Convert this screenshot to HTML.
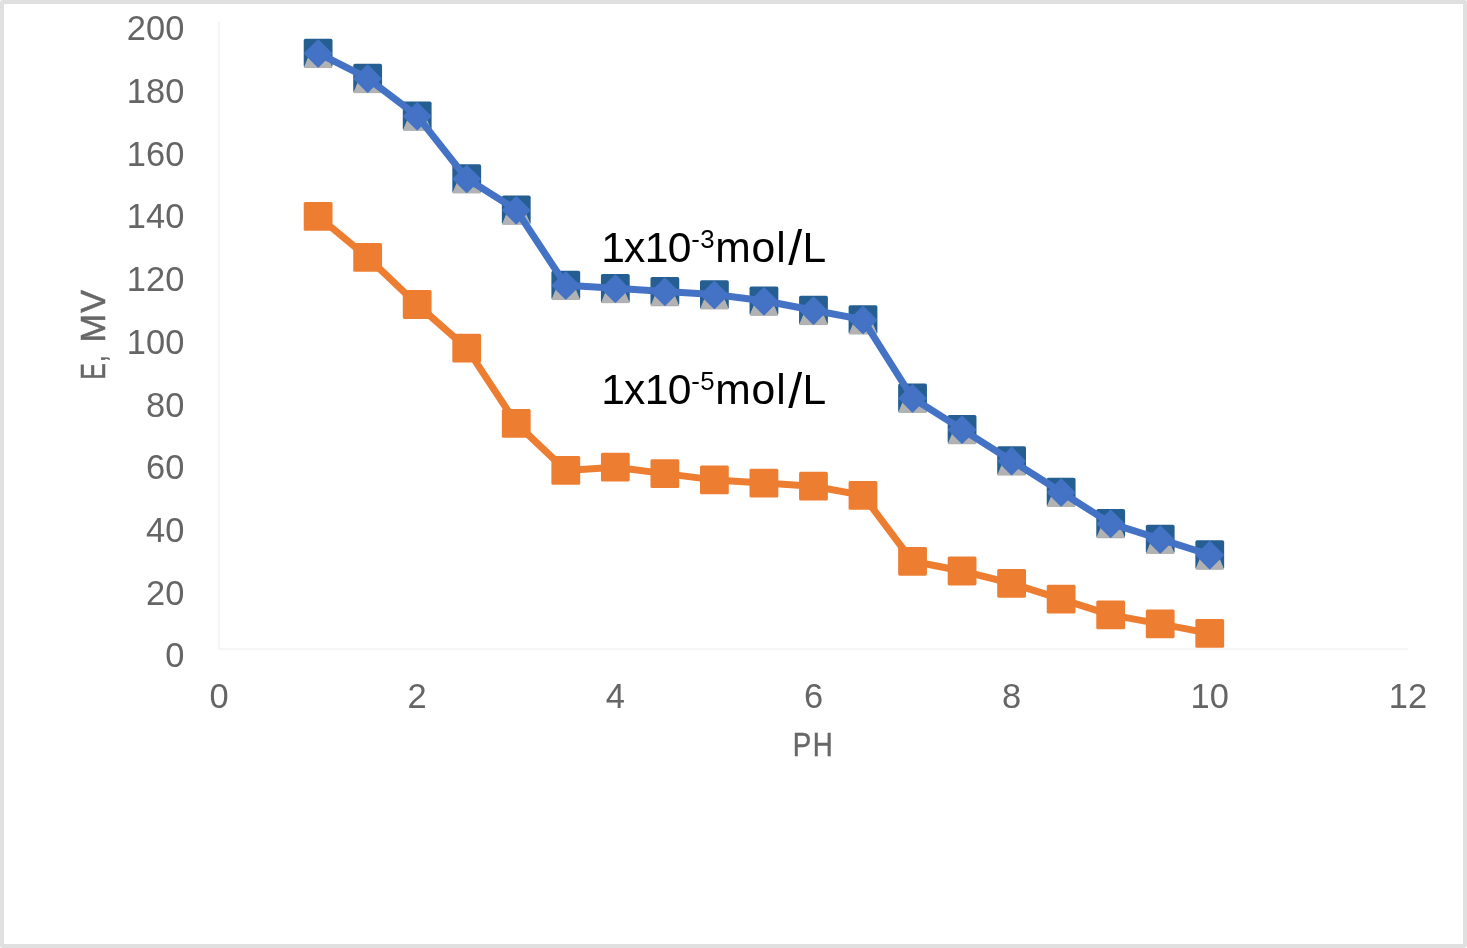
<!DOCTYPE html>
<html lang="en"><head><meta charset="utf-8"><title>E, MV vs PH</title>
<style>html,body{margin:0;padding:0;background:#fff}body{width:1467px;height:948px;overflow:hidden}svg{display:block}text{font-family:"Liberation Sans",sans-serif}</style></head><body>
<svg width="1467" height="948" viewBox="0 0 1467 948">
<rect x="0" y="0" width="1467" height="948" fill="#fff"/>
<rect x="2" y="2" width="1463" height="944" rx="0.4" ry="0.4" fill="#fff" stroke="#E0E0E0" stroke-width="4"/>
<polyline fill="none" stroke="#F5F5F5" stroke-width="2" stroke-linejoin="round" points="218.85,21.8 218.85,648.9 1408.2,648.9"/>
<g id="series-orange">
<polyline fill="none" stroke="#ED7D31" stroke-width="7" stroke-linejoin="round" stroke-linecap="round" points="318.12,216.4 367.65,257.4 417.19,304.5 466.73,348.15 516.26,423.4 565.8,470.4 615.33,467.2 664.87,473.6 714.4,479.9 763.93,483.1 813.47,486.2 863,495.4 912.54,561.3 962.08,571 1011.61,583.3 1061.14,599.2 1110.68,614.9 1160.21,623.9 1209.75,633.4"/>
<rect x="303.72" y="202" width="28.8" height="28.8" rx="1.6" fill="#ED7D31"/>
<rect x="353.25" y="243" width="28.8" height="28.8" rx="1.6" fill="#ED7D31"/>
<rect x="402.79" y="290.1" width="28.8" height="28.8" rx="1.6" fill="#ED7D31"/>
<rect x="452.33" y="333.75" width="28.8" height="28.8" rx="1.6" fill="#ED7D31"/>
<rect x="501.86" y="409" width="28.8" height="28.8" rx="1.6" fill="#ED7D31"/>
<rect x="551.4" y="456" width="28.8" height="28.8" rx="1.6" fill="#ED7D31"/>
<rect x="600.93" y="452.8" width="28.8" height="28.8" rx="1.6" fill="#ED7D31"/>
<rect x="650.47" y="459.2" width="28.8" height="28.8" rx="1.6" fill="#ED7D31"/>
<rect x="700" y="465.5" width="28.8" height="28.8" rx="1.6" fill="#ED7D31"/>
<rect x="749.53" y="468.7" width="28.8" height="28.8" rx="1.6" fill="#ED7D31"/>
<rect x="799.07" y="471.8" width="28.8" height="28.8" rx="1.6" fill="#ED7D31"/>
<rect x="848.6" y="481" width="28.8" height="28.8" rx="1.6" fill="#ED7D31"/>
<rect x="898.14" y="546.9" width="28.8" height="28.8" rx="1.6" fill="#ED7D31"/>
<rect x="947.68" y="556.6" width="28.8" height="28.8" rx="1.6" fill="#ED7D31"/>
<rect x="997.21" y="568.9" width="28.8" height="28.8" rx="1.6" fill="#ED7D31"/>
<rect x="1046.74" y="584.8" width="28.8" height="28.8" rx="1.6" fill="#ED7D31"/>
<rect x="1096.28" y="600.5" width="28.8" height="28.8" rx="1.6" fill="#ED7D31"/>
<rect x="1145.81" y="609.5" width="28.8" height="28.8" rx="1.6" fill="#ED7D31"/>
<rect x="1195.35" y="619" width="28.8" height="28.8" rx="1.6" fill="#ED7D31"/>
</g>
<g id="series-blue">
<rect x="303.72" y="38.75" width="28.8" height="28.8" rx="1.8" fill="#255E91"/>
<path d="M304.32 67.55 L312.4 48.15 L323.84 48.15 L331.92 67.55 Z" fill="#B2B2B2" stroke="#B2B2B2" stroke-width="1" stroke-linejoin="round"/>
<rect x="353.25" y="63.83" width="28.8" height="28.8" rx="1.8" fill="#255E91"/>
<path d="M353.85 92.63 L361.94 73.23 L373.37 73.23 L381.45 92.63 Z" fill="#B2B2B2" stroke="#B2B2B2" stroke-width="1" stroke-linejoin="round"/>
<rect x="402.79" y="101.45" width="28.8" height="28.8" rx="1.8" fill="#255E91"/>
<path d="M403.39 130.25 L411.47 110.85 L422.91 110.85 L430.99 130.25 Z" fill="#B2B2B2" stroke="#B2B2B2" stroke-width="1" stroke-linejoin="round"/>
<rect x="452.33" y="164.15" width="28.8" height="28.8" rx="1.8" fill="#255E91"/>
<path d="M452.93 192.95 L461.01 173.55 L472.44 173.55 L480.53 192.95 Z" fill="#B2B2B2" stroke="#B2B2B2" stroke-width="1" stroke-linejoin="round"/>
<rect x="501.86" y="195.5" width="28.8" height="28.8" rx="1.8" fill="#255E91"/>
<path d="M502.46 224.3 L510.54 204.9 L521.98 204.9 L530.06 224.3 Z" fill="#B2B2B2" stroke="#B2B2B2" stroke-width="1" stroke-linejoin="round"/>
<rect x="551.4" y="270.74" width="28.8" height="28.8" rx="1.8" fill="#255E91"/>
<path d="M552 299.54 L560.08 280.14 L571.51 280.14 L579.6 299.54 Z" fill="#B2B2B2" stroke="#B2B2B2" stroke-width="1" stroke-linejoin="round"/>
<rect x="600.93" y="273.88" width="28.8" height="28.8" rx="1.8" fill="#255E91"/>
<path d="M601.53 302.67 L609.61 283.27 L621.05 283.27 L629.13 302.67 Z" fill="#B2B2B2" stroke="#B2B2B2" stroke-width="1" stroke-linejoin="round"/>
<rect x="650.47" y="277.01" width="28.8" height="28.8" rx="1.8" fill="#255E91"/>
<path d="M651.07 305.81 L659.15 286.41 L670.58 286.41 L678.66 305.81 Z" fill="#B2B2B2" stroke="#B2B2B2" stroke-width="1" stroke-linejoin="round"/>
<rect x="700" y="280.14" width="28.8" height="28.8" rx="1.8" fill="#255E91"/>
<path d="M700.6 308.94 L708.68 289.54 L720.12 289.54 L728.2 308.94 Z" fill="#B2B2B2" stroke="#B2B2B2" stroke-width="1" stroke-linejoin="round"/>
<rect x="749.53" y="286.42" width="28.8" height="28.8" rx="1.8" fill="#255E91"/>
<path d="M750.13 315.21 L758.22 295.81 L769.65 295.81 L777.73 315.21 Z" fill="#B2B2B2" stroke="#B2B2B2" stroke-width="1" stroke-linejoin="round"/>
<rect x="799.07" y="295.82" width="28.8" height="28.8" rx="1.8" fill="#255E91"/>
<path d="M799.67 324.62 L807.75 305.22 L819.19 305.22 L827.27 324.62 Z" fill="#B2B2B2" stroke="#B2B2B2" stroke-width="1" stroke-linejoin="round"/>
<rect x="848.6" y="305.23" width="28.8" height="28.8" rx="1.8" fill="#255E91"/>
<path d="M849.2 334.02 L857.29 314.62 L868.72 314.62 L876.8 334.02 Z" fill="#B2B2B2" stroke="#B2B2B2" stroke-width="1" stroke-linejoin="round"/>
<rect x="898.14" y="383.6" width="28.8" height="28.8" rx="1.8" fill="#255E91"/>
<path d="M898.74 412.4 L906.82 393 L918.26 393 L926.34 412.4 Z" fill="#B2B2B2" stroke="#B2B2B2" stroke-width="1" stroke-linejoin="round"/>
<rect x="947.68" y="414.95" width="28.8" height="28.8" rx="1.8" fill="#255E91"/>
<path d="M948.28 443.75 L956.36 424.35 L967.79 424.35 L975.88 443.75 Z" fill="#B2B2B2" stroke="#B2B2B2" stroke-width="1" stroke-linejoin="round"/>
<rect x="997.21" y="446.3" width="28.8" height="28.8" rx="1.8" fill="#255E91"/>
<path d="M997.81 475.1 L1005.89 455.7 L1017.33 455.7 L1025.41 475.1 Z" fill="#B2B2B2" stroke="#B2B2B2" stroke-width="1" stroke-linejoin="round"/>
<rect x="1046.74" y="477.65" width="28.8" height="28.8" rx="1.8" fill="#255E91"/>
<path d="M1047.35 506.45 L1055.43 487.05 L1066.86 487.05 L1074.94 506.45 Z" fill="#B2B2B2" stroke="#B2B2B2" stroke-width="1" stroke-linejoin="round"/>
<rect x="1096.28" y="509" width="28.8" height="28.8" rx="1.8" fill="#255E91"/>
<path d="M1096.88 537.8 L1104.96 518.4 L1116.4 518.4 L1124.48 537.8 Z" fill="#B2B2B2" stroke="#B2B2B2" stroke-width="1" stroke-linejoin="round"/>
<rect x="1145.81" y="524.67" width="28.8" height="28.8" rx="1.8" fill="#255E91"/>
<path d="M1146.41 553.47 L1154.5 534.07 L1165.93 534.07 L1174.01 553.47 Z" fill="#B2B2B2" stroke="#B2B2B2" stroke-width="1" stroke-linejoin="round"/>
<rect x="1195.35" y="540.35" width="28.8" height="28.8" rx="1.8" fill="#255E91"/>
<path d="M1195.95 569.15 L1204.03 549.75 L1215.47 549.75 L1223.55 569.15 Z" fill="#B2B2B2" stroke="#B2B2B2" stroke-width="1" stroke-linejoin="round"/>
<polyline fill="none" stroke="#4472C4" stroke-width="7" stroke-linejoin="round" stroke-linecap="round" points="318.12,53.15 367.65,78.23 417.19,115.85 466.73,178.55 516.26,209.9 565.8,285.14 615.33,288.27 664.87,291.41 714.4,294.54 763.93,300.81 813.47,310.22 863,319.62 912.54,398 962.08,429.35 1011.61,460.7 1061.14,492.05 1110.68,523.4 1160.21,539.07 1209.75,554.75"/>
<path d="M318.12 40.45 L331.22 53.55 L318.12 66.65 L305.02 53.55 Z" fill="#4472C4" stroke="#4472C4" stroke-width="2" stroke-linejoin="round"/>
<path d="M367.65 65.53 L380.75 78.63 L367.65 91.73 L354.55 78.63 Z" fill="#4472C4" stroke="#4472C4" stroke-width="2" stroke-linejoin="round"/>
<path d="M417.19 103.15 L430.29 116.25 L417.19 129.35 L404.09 116.25 Z" fill="#4472C4" stroke="#4472C4" stroke-width="2" stroke-linejoin="round"/>
<path d="M466.73 165.85 L479.83 178.95 L466.73 192.05 L453.62 178.95 Z" fill="#4472C4" stroke="#4472C4" stroke-width="2" stroke-linejoin="round"/>
<path d="M516.26 197.2 L529.36 210.3 L516.26 223.4 L503.16 210.3 Z" fill="#4472C4" stroke="#4472C4" stroke-width="2" stroke-linejoin="round"/>
<path d="M565.8 272.44 L578.9 285.54 L565.8 298.64 L552.7 285.54 Z" fill="#4472C4" stroke="#4472C4" stroke-width="2" stroke-linejoin="round"/>
<path d="M615.33 275.57 L628.43 288.67 L615.33 301.77 L602.23 288.67 Z" fill="#4472C4" stroke="#4472C4" stroke-width="2" stroke-linejoin="round"/>
<path d="M664.87 278.71 L677.97 291.81 L664.87 304.91 L651.76 291.81 Z" fill="#4472C4" stroke="#4472C4" stroke-width="2" stroke-linejoin="round"/>
<path d="M714.4 281.84 L727.5 294.94 L714.4 308.04 L701.3 294.94 Z" fill="#4472C4" stroke="#4472C4" stroke-width="2" stroke-linejoin="round"/>
<path d="M763.93 288.11 L777.03 301.21 L763.93 314.31 L750.83 301.21 Z" fill="#4472C4" stroke="#4472C4" stroke-width="2" stroke-linejoin="round"/>
<path d="M813.47 297.52 L826.57 310.62 L813.47 323.72 L800.37 310.62 Z" fill="#4472C4" stroke="#4472C4" stroke-width="2" stroke-linejoin="round"/>
<path d="M863 306.92 L876.1 320.02 L863 333.12 L849.9 320.02 Z" fill="#4472C4" stroke="#4472C4" stroke-width="2" stroke-linejoin="round"/>
<path d="M912.54 385.3 L925.64 398.4 L912.54 411.5 L899.44 398.4 Z" fill="#4472C4" stroke="#4472C4" stroke-width="2" stroke-linejoin="round"/>
<path d="M962.08 416.65 L975.18 429.75 L962.08 442.85 L948.98 429.75 Z" fill="#4472C4" stroke="#4472C4" stroke-width="2" stroke-linejoin="round"/>
<path d="M1011.61 448 L1024.71 461.1 L1011.61 474.2 L998.51 461.1 Z" fill="#4472C4" stroke="#4472C4" stroke-width="2" stroke-linejoin="round"/>
<path d="M1061.14 479.35 L1074.24 492.45 L1061.14 505.55 L1048.05 492.45 Z" fill="#4472C4" stroke="#4472C4" stroke-width="2" stroke-linejoin="round"/>
<path d="M1110.68 510.7 L1123.78 523.8 L1110.68 536.9 L1097.58 523.8 Z" fill="#4472C4" stroke="#4472C4" stroke-width="2" stroke-linejoin="round"/>
<path d="M1160.21 526.37 L1173.31 539.47 L1160.21 552.57 L1147.12 539.47 Z" fill="#4472C4" stroke="#4472C4" stroke-width="2" stroke-linejoin="round"/>
<path d="M1209.75 542.05 L1222.85 555.15 L1209.75 568.25 L1196.65 555.15 Z" fill="#4472C4" stroke="#4472C4" stroke-width="2" stroke-linejoin="round"/>
</g>
<g fill="#656565" font-size="35.5" text-anchor="end" lengthAdjust="spacingAndGlyphs">
<text x="184.3" y="667.3" textLength="19.15" lengthAdjust="spacingAndGlyphs">0</text>
<text x="184.3" y="604.6" textLength="38.3" lengthAdjust="spacingAndGlyphs">20</text>
<text x="184.3" y="541.9" textLength="38.3" lengthAdjust="spacingAndGlyphs">40</text>
<text x="184.3" y="479.2" textLength="38.3" lengthAdjust="spacingAndGlyphs">60</text>
<text x="184.3" y="416.5" textLength="38.3" lengthAdjust="spacingAndGlyphs">80</text>
<text x="184.3" y="353.8" textLength="57.45" lengthAdjust="spacingAndGlyphs">100</text>
<text x="184.3" y="291.1" textLength="57.45" lengthAdjust="spacingAndGlyphs">120</text>
<text x="184.3" y="228.4" textLength="57.45" lengthAdjust="spacingAndGlyphs">140</text>
<text x="184.3" y="165.7" textLength="57.45" lengthAdjust="spacingAndGlyphs">160</text>
<text x="184.3" y="103" textLength="57.45" lengthAdjust="spacingAndGlyphs">180</text>
<text x="184.3" y="40.3" textLength="57.45" lengthAdjust="spacingAndGlyphs">200</text>
</g>
<g fill="#656565" font-size="35.5" text-anchor="middle">
<text x="219.05" y="707.9" textLength="19.15" lengthAdjust="spacingAndGlyphs">0</text>
<text x="417.19" y="707.9" textLength="19.15" lengthAdjust="spacingAndGlyphs">2</text>
<text x="615.33" y="707.9" textLength="19.15" lengthAdjust="spacingAndGlyphs">4</text>
<text x="813.47" y="707.9" textLength="19.15" lengthAdjust="spacingAndGlyphs">6</text>
<text x="1011.61" y="707.9" textLength="19.15" lengthAdjust="spacingAndGlyphs">8</text>
<text x="1209.75" y="707.9" textLength="38.3" lengthAdjust="spacingAndGlyphs">10</text>
<text x="1407.89" y="707.9" textLength="38.3" lengthAdjust="spacingAndGlyphs">12</text>
</g>
<text transform="translate(0 756) scale(0.83 1)" fill="#676767" stroke="#676767" stroke-width="0.5" font-size="33.3" x="955.27 979.35">PH</text>
<g fill="#676767" stroke="#676767" stroke-width="0.5" font-size="34.2"><text transform="translate(104.7 377) rotate(-90) scale(0.72 1)" x="-3.53 21.01">E,</text><text transform="translate(104.7 377) rotate(-90)" x="34.46 64.34">MV</text></g>
<text y="262.1" fill="#000" font-size="42.6"><tspan x="601.27 623.94 644.82 667.7">1x10</tspan><tspan font-size="25.8" x="691.2 700.25" dy="-14.3">-3</tspan><tspan x="715.35 751.5 776.21" dy="14.3">mol</tspan><tspan font-size="50" x="788.35" dy="3.3">/</tspan><tspan x="802.42" dy="-3.3">L</tspan></text>
<text y="404.3" fill="#000" font-size="42.6"><tspan x="601.27 623.94 644.82 667.7">1x10</tspan><tspan font-size="25.8" x="691.2 700.2" dy="-14.3">-5</tspan><tspan x="715.35 751.5 776.21" dy="14.3">mol</tspan><tspan font-size="50" x="788.35" dy="3.3">/</tspan><tspan x="802.42" dy="-3.3">L</tspan></text>
</svg></body></html>
